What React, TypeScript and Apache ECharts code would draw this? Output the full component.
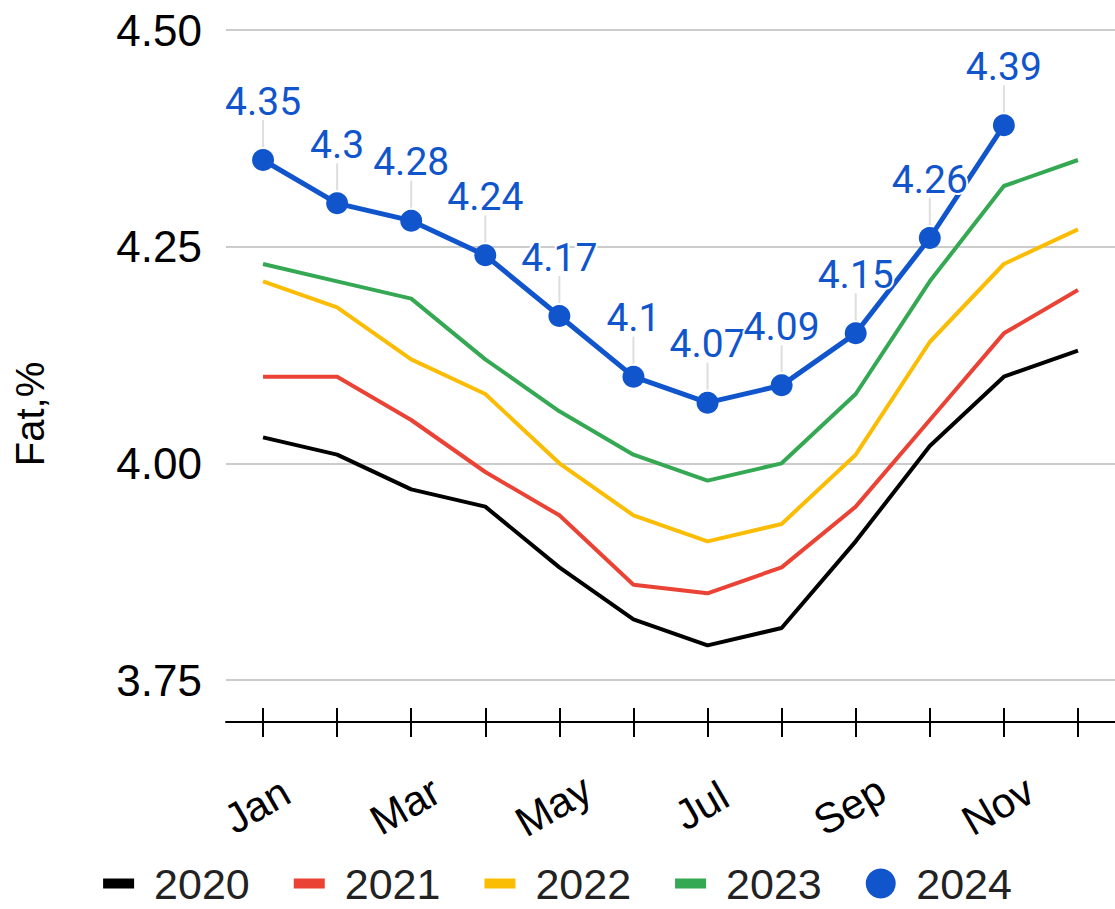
import React, { useEffect, useRef } from "react";
import * as echarts from "echarts";

const months = ["Jan", "Feb", "Mar", "Apr", "May", "Jun", "Jul", "Aug", "Sep", "Oct", "Nov", "Dec"];
const fat2020 = [4.03, 4.01, 3.97, 3.95, 3.88, 3.82, 3.79, 3.81, 3.91, 4.02, 4.1, 4.13];
const fat2021 = [4.1, 4.1, 4.05, 3.99, 3.94, 3.86, 3.85, 3.88, 3.95, 4.05, 4.15, 4.2];
const fat2022 = [4.21, 4.18, 4.12, 4.08, 4.0, 3.94, 3.91, 3.93, 4.01, 4.14, 4.23, 4.27];
const fat2023 = [4.23, 4.21, 4.19, 4.12, 4.06, 4.01, 3.98, 4.0, 4.08, 4.21, 4.32, 4.35];
const fat2024 = [4.35, 4.3, 4.28, 4.24, 4.17, 4.1, 4.07, 4.09, 4.15, 4.26, 4.39, null];
const seriesNames = ["2020", "2021", "2022", "2023", "2024"];
const seriesColors = ["#000000", "#ea4335", "#fbbc04", "#34a853", "#1155cc"];
const yMin = 3.75;
const yMax = 4.5;
const yStep = 0.25;
const yAxisTitle = "Fat,%";

const FONT = "'Liberation Sans', Arial, sans-serif";
const RECT_ICON =
  "path://M0,0h0.01v0.01h-0.01z M0,10h31v10h-31z M30.99,29.99h0.01v0.01h-0.01z";

export default function App() {
  const ref = useRef<HTMLDivElement>(null);

  useEffect(() => {
    document.body.style.margin = "0";
    if (!ref.current) return;
    const chart = echarts.init(ref.current, null, { renderer: "svg" });
    const allData = [fat2020, fat2021, fat2022, fat2023, fat2024];

    const series: any[] = allData.map((d, i) => {
      const isLast = i === allData.length - 1;
      const base: any = {
        name: seriesNames[i],
        type: "line",
        data: d,
        xAxisIndex: 0,
        yAxisIndex: 0,
        color: seriesColors[i],
        lineStyle: { color: seriesColors[i], width: isLast ? 5 : 4 },
        itemStyle: { color: seriesColors[i] },
        showSymbol: isLast,
        symbol: "circle",
        symbolSize: isLast ? 22 : 0,
        connectNulls: false,
        z: 2 + i,
      };
      if (isLast) {
        base.z = 10;
        base.label = {
          show: true,
          position: "top",
          distance: 28,
          fontSize: 39,
          fontFamily: "Roboto, " + FONT,
          color: "#1155cc",
          textBorderColor: "#ffffff",
          textBorderWidth: 4,
        };
      }
      return base;
    });

    // leader lines from each 2024 point up to its label
    const leaderData = fat2024
      .map((v, i) => (v == null ? null : [i, v]))
      .filter((p) => p !== null);
    series.push({
      name: "leaders",
      type: "custom",
      xAxisIndex: 0,
      yAxisIndex: 0,
      silent: true,
      z: 8,
      data: leaderData,
      renderItem: (params: any, api: any) => {
        const p = api.coord([api.value(0), api.value(1)]);
        return {
          type: "line",
          shape: { x1: p[0], y1: p[1] - 13, x2: p[0], y2: p[1] - 40 },
          style: { stroke: "#dedede", lineWidth: 2 },
        };
      },
    });

    chart.setOption({
      animation: false,
      backgroundColor: "#ffffff",
      grid: { left: 226, right: -2, top: 30, bottom: 229, containLabel: false },
      legend: {
        data: seriesNames.map((n, i) => ({
          name: n,
          icon: i === seriesNames.length - 1 ? "circle" : RECT_ICON,
        })),
        left: "center",
        top: 857,
        itemWidth: 31,
        itemHeight: 30,
        itemGap: 44,
        textStyle: {
          fontSize: 43,
          lineHeight: 40,
          color: "#222222",
          fontFamily: FONT,
          padding: [0, 0, 0, 15],
        },
      },
      xAxis: [
        {
          type: "category",
          data: months,
          boundaryGap: true,
          position: "bottom",
          offset: 42,
          axisLine: { show: true, lineStyle: { color: "#000000", width: 2 } },
          axisTick: {
            show: true,
            interval: 0,
            alignWithLabel: true,
            length: 15,
            lineStyle: { color: "#000000", width: 2 },
          },
          axisLabel: {
            interval: 1,
            rotate: 30,
            margin: 80,
            align: "center",
            verticalAlign: "middle",
            fontSize: 42,
            color: "#000000",
            fontFamily: FONT,
            padding: [0, 14, 0, 0],
          },
          splitLine: { show: false },
        },
        {
          type: "category",
          data: months,
          boundaryGap: true,
          position: "bottom",
          offset: 42,
          axisLine: { show: false },
          axisTick: {
            show: true,
            inside: true,
            interval: 0,
            alignWithLabel: true,
            length: 14,
            lineStyle: { color: "#000000", width: 2 },
          },
          axisLabel: { show: false },
          splitLine: { show: false },
        },
      ],
      yAxis: {
        type: "value",
        min: yMin,
        max: yMax,
        interval: yStep,
        axisLine: { show: false },
        axisTick: { show: false },
        axisLabel: {
          formatter: (v: number) => v.toFixed(2),
          fontSize: 44,
          color: "#000000",
          margin: 24,
          fontFamily: FONT,
        },
        splitLine: { show: true, lineStyle: { color: "#cccccc", width: 2 } },
      },
      graphic: [
        {
          type: "text",
          x: 30,
          y: 414,
          rotation: Math.PI / 2,
          style: {
            text: yAxisTitle,
            fontSize: 40,
            fontFamily: FONT,
            fill: "#000000",
            align: "center",
            verticalAlign: "middle",
          },
        },
      ],
      series,
    });

    return () => {
      chart.dispose();
    };
  }, []);

  return <div ref={ref} style={{ width: 1115, height: 909 }} />;
}
